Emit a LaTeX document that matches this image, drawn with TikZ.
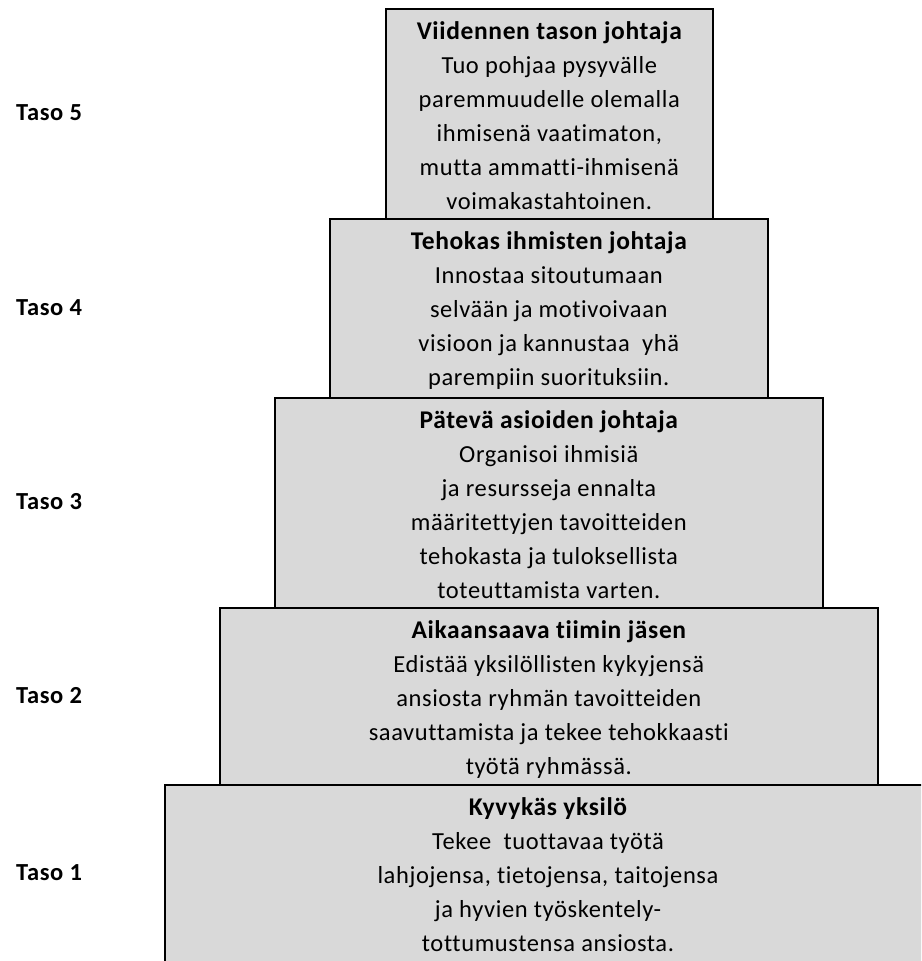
\documentclass[tikz,border=0pt]{standalone}
\usepackage{fontspec}
\setmainfont{Carlito}[LetterSpace=2.5, Ligatures={NoCommon}]
\definecolor{tierfill}{HTML}{D9D9D9}
\tikzset{
  tier/.style={draw=black, line width=1.6pt, fill=tierfill, rectangle,
    inner sep=0pt, anchor=north west},
  tiertext/.style={anchor=north, align=center, inner sep=0pt,
    font=\fontsize{24.5}{34}\selectfont},
  level/.style={anchor=west, inner sep=0pt,
    font=\fontsize{24.5}{34}\selectfont\bfseries},
}
\newcommand{\tiertop}[1]{\strut{\fontsize{25.5}{34}\selectfont\bfseries #1}}
\begin{document}
\begin{tikzpicture}[x=1pt, y=-1pt]
  \useasboundingbox (0,0) rectangle (921,961);
  \clip (0,0) rectangle (921,961);

  % the five stacked tiers, widest at the bottom
  \node[tier, minimum width=768pt, minimum height=200pt] (b1) at (164,784) {};
  \node[tier, minimum width=658pt, minimum height=177pt] (b2) at (219,607) {};
  \node[tier, minimum width=548pt, minimum height=210pt] (b3) at (274,397) {};
  \node[tier, minimum width=438pt, minimum height=179pt] (b4) at (329,218) {};
  \node[tier, minimum width=327pt, minimum height=210pt] (b5) at (385,8) {};

  % tier texts
  \node[tiertext] (t5) at ([yshift=-7pt]b5.north) {\tiertop{Viidennen tason johtaja}\\
    Tuo pohjaa pysyvälle\\ paremmuudelle olemalla\\ ihmisenä vaatimaton,\\
    mutta ammatti-ihmisenä\\ voimakastahtoinen.};
  \node[tiertext] (t4) at ([yshift=-7pt]b4.north) {\tiertop{Tehokas ihmisten johtaja}\\
    Innostaa sitoutumaan\\ selvään ja motivoivaan\\ visioon ja kannustaa~ yhä\\
    parempiin suorituksiin.};
  \node[tiertext] (t3) at ([yshift=-7pt]b3.north) {\tiertop{Pätevä asioiden johtaja}\\
    Organisoi ihmisiä\\ ja resursseja ennalta\\ määritettyjen tavoitteiden\\
    tehokasta ja tuloksellista\\ toteuttamista varten.};
  \node[tiertext] (t2) at ([yshift=-7pt]b2.north) {\tiertop{Aikaansaava tiimin jäsen}\\
    Edistää yksilöllisten kykyjensä\\ ansiosta ryhmän tavoitteiden\\
    saavuttamista ja tekee tehokkaasti\\ työtä ryhmässä.};
  \node[tiertext] (t1) at (548,791) {\tiertop{Kyvykäs yksilö}\\
    Tekee~ tuottavaa työtä\\ lahjojensa, tietojensa, taitojensa\\
    ja hyvien työskentely-\\ tottumustensa ansiosta.};

  % level labels on the left
  \node[level] (l5) at (16,113) {Taso 5};
  \node[level] (l4) at (16,308) {Taso 4};
  \node[level] (l3) at (16,502) {Taso 3};
  \node[level] (l2) at (16,696) {Taso 2};
  \node[level] (l1) at (16,873) {Taso 1};
\end{tikzpicture}
\end{document}
